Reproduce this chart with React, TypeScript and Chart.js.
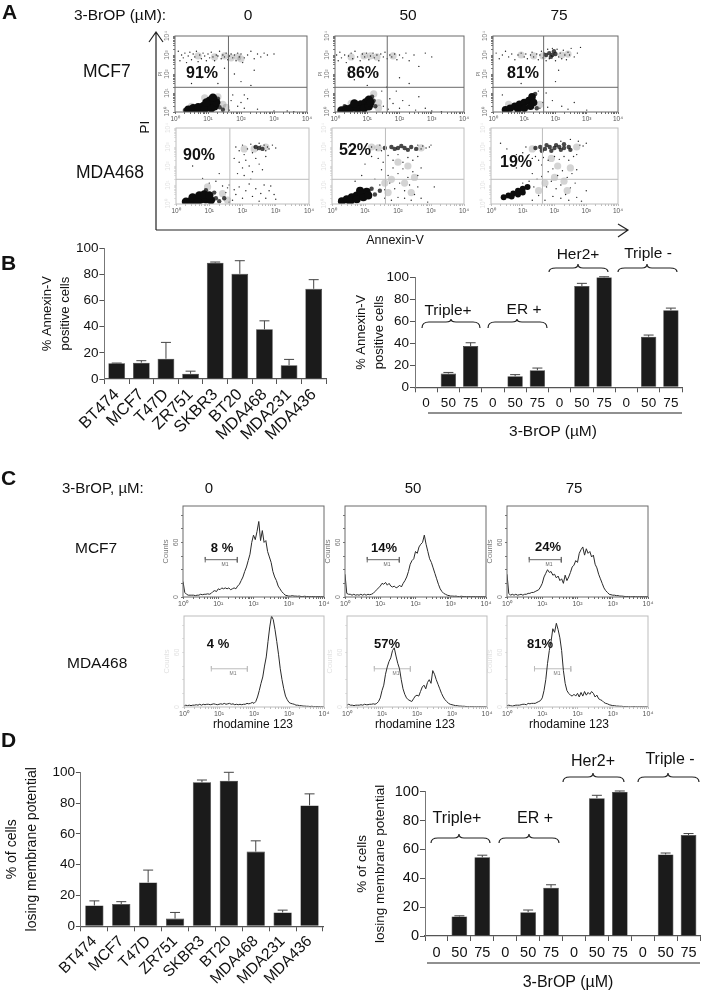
import React, { useEffect, useRef } from "react";
import { Chart, registerables } from "chart.js";

Chart.register(...registerables);

const FONT = "'Liberation Sans', Arial, sans-serif";
const W = 703;
const H = 992;

/* ---------- bar data ---------- */
const cellLines = ["BT474", "MCF7", "T47D", "ZR751", "SKBR3", "BT20", "MDA468", "MDA231", "MDA436"];
const doseLabels = ["0", "50", "75", "0", "50", "75", "0", "50", "75", "0", "50", "75"];

const annexinByLine = [12, 12.5, 15.5, 4, 89, 80.5, 38, 10.5, 69];
const annexinByLineTop = [12.2, 14, 28, 6, 89.5, 90.5, 44.5, 15, 76];
const annexinByDose = [0, 12.5, 37.5, 0, 10, 15.5, 0, 92, 100, 0, 46, 70];
const annexinByDoseTop = [0, 13.5, 40.5, 0, 11.5, 17.5, 0, 94.5, 100.5, 0, 47.5, 72];
const potentialByLine = [13.5, 14.5, 28.5, 5, 93.5, 94.5, 48.5, 9, 78.5];
const potentialByLineTop = [16.5, 16, 36.5, 9, 95, 100, 55.5, 10.5, 86];
const potentialByDose = [0, 13.5, 54.5, 0, 16.5, 33.5, 0, 95.5, 100, 0, 56.5, 70];
const potentialByDoseTop = [0, 14, 56, 0, 18, 35.5, 0, 97.5, 100.5, 0, 57.5, 71];

/* ---------- flow cytometry dots, log10 decades as x,y pairs ---------- */
const mcf7_0_core = [.4,.12,.55,.2,.7,.25,.85,.3,1,.35,1.1,.4,.7,.12,.9,.15,1.1,.2,1.2,.3,1.25,.5,1.05,.6,.95,.5,1.15,.75];
const mcf7_0_mid = [1.35,.25,1.3,.7,.3,.1,1.45,.12];
const mcf7_0_halo = [.5,.3,.9,.75,1.3,.8,1.45,.4,1.55,.25,1.7,2.85,1.9,2.9,1.5,2.95,1.2,2.9,.7,2.95,2,2.8];
const mcf7_0_dots = [.1,3.2,.15,2.7,.2,3,.25,2.85,.3,3.1,.35,2.6,.4,2.95,.45,3.15,.5,2.75,.55,3.05,.6,2.9,.65,3.2,.7,2.65,.75,3,.8,2.8,.85,3.1,.9,2.95,.95,2.7,1,3.05,1.05,2.85,1.1,3.15,1.15,2.9,1.2,2.7,1.25,3,1.3,2.95,1.35,3.2,1.4,2.8,1.45,3,1.5,2.9,1.55,3.1,1.6,2.75,1.65,2.95,1.7,3.05,1.75,2.85,1.8,3,1.85,2.7,1.9,3.1,1.95,2.9,2,3.05,2.05,2.6,2.1,2.85,2.2,3,2.3,3.2,2.4,2.8,2.5,3.05,2.6,2.9,2.7,3.1,2.8,3,3,3.05,1.8,2,2,1.6,2.1,.9,2.3,1.4,1.7,.6,1.75,.9,1.9,.3,2,.5,2.1,.2,2.2,.7,2.5,.15,2.4,2.2,.8,1.8,1,2.2,1.3,1.5,.5,1.5,1.5,2.3,1.65,.1,3.4,.05,3,.05,3.6,.02];

const mcf7_50_core = [.2,.08,.35,.15,.5,.2,.65,.3,.8,.4,.95,.5,1.05,.65,.7,.15,.9,.2,1.05,.3,1.1,.5,.6,.45];
const mcf7_50_mid = [1.15,.8,1.25,.3,1.2,.6,.3,.3];
const mcf7_50_halo = [1.1,2.95,1.3,2.9,.9,2.95,.5,2.9,1.8,2.95,1.35,.2,1.35,.5,.5,.45,1.2,.95];
const mcf7_50_dots = [.05,3,.1,2.7,.15,3.15,.2,2.85,.3,3,.35,2.6,.42,2.95,.5,3.1,.55,2.8,.62,3.2,.7,2.9,.78,2.7,.85,3.05,.92,2.9,.98,3.1,1.05,2.75,1.1,2.95,1.18,3.1,1.22,2.85,1.3,3,1.36,2.7,1.42,3.05,1.5,2.9,1.55,3.15,1.62,2.8,1.7,3,1.76,2.9,1.85,3.05,1.92,2.75,2,3,2.1,2.85,2.2,3.1,2.3,2.7,2.45,3,2.6,2.4,2.8,3.1,3,2.9,1.5,.3,1.65,.15,1.7,.7,1.8,.45,1.9,1.1,2,.2,2.1,.6,2.3,.35,2.5,.1,2.8,.2,3,.05,1.6,1.3,2,1.8,2.3,1.5,.6,1.7,1,1.4,1.3,2,.4,2.1,1.45,1.1,2.6,.8,3.3,.02];

const mcf7_75_core = [.4,.12,.55,.2,.7,.3,.85,.4,1,.5,1.15,.6,1.25,.8,.8,.15,1,.2,1.2,.3,1.3,.5];
const mcf7_75_mid = [1.7,3,1.8,3.1,1.9,3,2,3.05,1.85,2.9,1.95,3.2,1.35,.95,1.4,.2];
const mcf7_75_halo = [1.6,2.95,1.3,2.95,.9,3,2.2,3,2.4,3.05,1.5,.4,.5,.4];
const mcf7_75_dots = [.1,3.1,.2,2.8,.3,3,.4,3.2,.5,2.9,.6,3.05,.7,2.75,.8,3,.9,3.1,1,2.9,1.05,3.05,1.1,2.8,1.2,3,1.25,3.15,1.3,2.9,1.4,3.05,1.45,2.75,1.5,3,1.55,3.2,1.6,2.85,1.65,3.1,1.7,2.7,1.75,3.3,1.8,2.8,1.9,3.35,2,2.7,2.05,3.3,2.1,2.9,2.15,3.1,2.2,2.8,2.25,3.25,2.3,3,2.35,2.75,2.4,3.15,2.45,3,2.5,3.35,2.6,2.9,2.7,3.1,2.8,3.4,1.5,.2,1.6,.5,1.7,1,1.75,.25,1.9,.6,2,1.6,2.1,2.2,2.2,.3,2.4,.15,2.6,.5,3,.1,1.45,1.1,.9,1.5,1.2,1.9,.3,.9];

const mda_0_core = [.3,.12,.45,.15,.6,.2,.75,.25,.9,.25,1.05,.2,.5,.35,.7,.45,.85,.5,1,.45,.65,.1];
const mda_0_mid = [1.2,.3,1.3,.15,1.15,.6,.9,.72,1.45,.3,2.5,2.95,2.6,2.9,2.4,3];
const mda_0_halo = [1.4,.55,1.55,.2,.95,.9,2.35,2.9,2.7,3,2.05,2.9];
const mda_0_dots = [1.8,3,1.9,2.8,2,3.1,2.05,2.6,2.15,2.9,2.25,3.15,2.3,2.7,2.35,3,2.45,2.85,2.5,3.2,2.55,3.05,2.65,3.1,2.7,2.8,2.75,3,2.8,2.9,2.9,3.1,3,2.95,1.75,2.4,1.9,2.2,2,1.9,2.1,2.3,2.2,2,2.3,1.7,2.4,2.4,2.5,2.1,2.6,1.8,2.7,2.5,2.05,1.5,2.25,1.3,1.85,1.6,1.7,.2,1.8,.5,1.9,.9,2,.3,2.1,.7,2.2,1.05,2.3,.4,2.4,.8,2.5,.15,2.55,.55,2.65,1,2.7,.3,2.8,.7,2.85,.95,2.95,.5,3,.25,1.5,.6,1.6,1,1.4,.95,1.2,1.2,1,1.1,.8,1.35,1.3,1.6,.5,2,.9,2.4,1.6,.1,1.55,.85,1.75,.75];

const mda_50_core = [.3,.15,.45,.25,.6,.35,.75,.45,.9,.55,1.05,.65,.55,.15,.75,.25,.95,.35,1.1,.45,.85,.7];
const mda_50_mid = [1.3,.5,1.2,.8,1.45,.7,1.6,2.95,1.8,3,2,2.95,2.2,2.95,2.4,3,2.55,2.9,1.9,2.9,2.1,3.05,2.3,2.85];
const mda_50_halo = [1.8,1.3,2.2,1.1,2.4,.6,2.5,1.4,2,2.2,1.6,1.1,2.3,2,1.4,2.95,2.7,2.95,1.7,.6,1.2,3];
const mda_50_dots = [.5,3,.8,3.05,1,2.9,1.2,3,1.35,2.85,1.45,3.1,1.5,2.8,2.6,3.1,2.7,2.9,2.75,3.05,2.85,2.95,2.95,3,3,3.1,1.2,2.5,1.4,2.4,1.55,2.2,1.7,2.55,1.85,2.3,2,2.6,2.15,2.2,2.3,2.45,2.45,2.3,2.6,2.5,1.5,1.8,1.7,1.5,1.85,1.9,2,1.6,2.15,1.85,2.3,1.4,2.45,1.7,2.6,1.5,2.7,1.9,1.3,1.3,1.45,1,1.6,.75,1.75,1.1,1.9,.8,2.05,1.1,2.2,.7,2.35,1,2.5,.5,2.6,.9,2.7,.3,2.4,.2,2.2,.3,2,.35,1.8,.2,1.6,.3,.9,1.5,1,2.1,.7,1.2,3.1,.9,2.9,.1];

const mda_75_core = [.4,.35,.55,.45,.7,.55,.85,.7,1,.8,1.15,.9,.65,.4,.85,.5,1,.6];
const mda_75_mid = [1.4,2.95,1.55,3,1.7,2.9,1.85,3,2,2.95,2.15,3,2.3,2.95,2.45,3,1.6,2.8,1.9,2.8,2.2,2.85,1.75,3.1,2.05,3.1,2.3,3.15,2.5,2.85];
const mda_75_halo = [2,1.4,2.3,1.2,1.7,1.1,2.1,2,1.5,.7,2.4,.7,1.3,2.9,2.7,3,1.9,2.4,2.5,1.9];
const mda_75_dots = [.3,3.2,.5,2.9,.8,2.6,1,2.7,1.1,3,1.2,2.6,1.3,2.4,1.4,2.5,1.5,2.3,1.65,2.45,1.8,2.3,2,2.5,2.15,2.35,2.3,2.5,2.45,2.3,2.6,2.5,2.7,2.6,2.8,3.1,2.9,3.05,3,3.2,2.75,3.3,2.5,3.4,2.2,3.3,1.6,2.05,1.8,1.7,1.95,1.85,2.1,1.5,2.25,1.75,2.4,1.4,2.55,1.6,2.7,1.8,1.3,1.6,1.45,1.3,1.6,1.45,1.75,.9,1.9,1.2,2.05,.8,2.2,1,2.35,.5,2.5,.85,2.65,1.1,2.7,.35,2.45,.2,2.2,.3,1.95,.4,1.7,.2,1.5,.45,1.3,.2,1.35,.9,1.2,1.2,1,1.1,.8,1.9,3,.7,2.85,.15];

const annexinGate = [1.62, 1.3];

/* ---------- rhodamine histograms, counts per 0.05 decade ---------- */
const channel = [0,.05,.1,.15,.2,.25,.3,.35,.4,.45,.5,.55,.6,.65,.7,.75,.8,.85,.9,.95,1,1.05,1.1,1.15,1.2,1.25,1.3,1.35,1.4,1.45,1.5,1.55,1.6,1.65,1.7,1.75,1.8,1.85,1.9,1.95,2,2.05,2.1,2.15,2.2,2.25,2.3,2.35,2.4,2.45,2.5,2.55,2.6,2.65,2.7,2.75,2.8,2.85,2.9,2.95,3,3.05,3.1,3.15,3.2,3.25,3.3,3.35,3.4,3.45,3.5,3.55,3.6,3.65,3.7,3.75,3.8,3.85,3.9,3.95,4];
const histMcf7_0 = [17,5,3,2,2,2,2,1.5,2,2,3,2.5,3,3,3.5,3,4,6,7,6,9,8,10,9,10,9,10,8,9,10,9,12,14,18,22,28,33,40,47,60,68,63,72,83,62,73,60,62,50,44,38,28,22,18,12,9,6,4,2,1.5,1,1,1.5,1,1,.8,1,.5,.5,.8,.5,.5,.3,.5,.5,.3,.3,.5,.3,.3,.3];
const histMcf7_50 = [25,4,3,3,2,3,2,2.5,2,3,2,3,2,3,2.5,3,4,6,8,10,12,15,14,16,13,15,12,11,12,10,11,13,11,15,18,22,28,36,40,42,50,48,55,58,60,68,58,50,42,38,32,26,20,14,9,6,4,3,2,1.5,1,1,.8,1,.5,.5,.8,.5,.5,.3,.5,.3,.3,.5,.3,.3,.3,.3,.3,.3,.3];
const histMcf7_75 = [25,4,2,3,2,3,2,2.5,3,2,3,3,4,4,5,5,6,7,8,11,15,22,26,30,27,28,24,25,21,23,18,20,15,24,18,22,27,33,35,40,38,48,52,55,46,53,48,50,44,46,36,32,25,20,15,10,7,5,3,2.5,2,2,1.5,1.5,1,1,.8,.5,.5,.5,.3,.3,.5,.3,.3,.3,.3,.3,.3,.3,.3];
const histMda_0 = [1,2,1.5,2,1.5,2,2,2.5,2,3,2,3,2.5,3,3,2.5,3,3.5,3,2.5,3,3.5,3,4,3,3.5,4,3,3.5,2.5,3,2.5,3,2.5,3,3,4,3.5,4,5,4,6,11,18,26,33,45,55,72,88,100,96,85,72,58,42,30,20,12,8,5,4,3.5,3,2,2,1.5,1.5,1,1,.8,.8,.5,.8,.5,.5,.5,.5,.3,.3,.3];
const histMda_50 = [2,3,2,2,1.5,2,2,2,2.5,2,3,2.5,2.5,3,3,3.5,3,4,6,10,18,24,36,44,50,54,62,65,56,48,42,30,20,14,10,8,7,6,9,12,13,12,17,22,24,20,27,30,26,40,36,30,25,20,15,11,8,6,4,3,2.5,2,1.5,1.5,1,1,.8,.8,.5,.5,.3,.5,.3,.3,.3,.3,.3,.3,.3,.3,.3];
const histMda_75 = [1.5,2,1.5,1,1.5,2,2,2,2.5,3,3,2.5,4,3.5,4,4,4,5,6,7,10,18,30,48,62,72,86,82,92,85,76,62,40,26,18,15,13,12,14,12,15,11,16,12,17,13,16,14,17,15,11,13,9,8,7,5,4,3.5,2.5,2,1.5,1.5,1,1,.8,.8,.5,.5,.5,.3,.3,.3,.5,.3,.3,.3,.3,.3,.3,.3,.3];

const m1Mcf7 = [.63, 1.54, 41];
const m1Mda = [.78, 1.81, 42];

const decadeLabels = ["10⁰", "10¹", "10²", "10³", "10⁴"];
const minorDecades = [.3, .48, .6, .7, .78, .85, .9, .95];

/* ---------- text ---------- */
type T = { t: string; x: number; y: number; s: number; b?: boolean; c?: boolean; r?: boolean; col?: string };
const texts: T[] = [
  { t: "A", x: 2, y: 11, s: 21, b: true },
  { t: "B", x: 1, y: 262, s: 21, b: true },
  { t: "C", x: 1, y: 477, s: 21, b: true },
  { t: "D", x: 1, y: 739, s: 21, b: true },
  { t: "3-BrOP (µM):", x: 74, y: 15, s: 15.5 },
  { t: "0", x: 248, y: 15, s: 15.5, c: true },
  { t: "50", x: 408, y: 15, s: 15.5, c: true },
  { t: "75", x: 559, y: 15, s: 15.5, c: true },
  { t: "MCF7", x: 83, y: 72, s: 17.5 },
  { t: "MDA468", x: 76, y: 173, s: 17.5 },
  { t: "PI", x: 145, y: 127, s: 13.5, c: true, r: true },
  { t: "Annexin-V", x: 395, y: 240, s: 12.5, c: true },
  { t: "91%", x: 186, y: 73, s: 16, b: true },
  { t: "86%", x: 347, y: 73, s: 16, b: true },
  { t: "81%", x: 507, y: 73, s: 16, b: true },
  { t: "90%", x: 183, y: 155, s: 16, b: true },
  { t: "52%", x: 339, y: 150, s: 16, b: true },
  { t: "19%", x: 500, y: 162, s: 16, b: true },
  { t: "Triple+", x: 448, y: 310, s: 15.5, c: true },
  { t: "ER +", x: 524, y: 309, s: 15.5, c: true },
  { t: "Her2+", x: 578, y: 254, s: 15.5, c: true },
  { t: "Triple -", x: 648, y: 253, s: 15.5, c: true },
  { t: "3-BrOP (µM)", x: 553, y: 431, s: 15.5, c: true },
  { t: "3-BrOP, µM:", x: 62, y: 487, s: 15 },
  { t: "0", x: 209, y: 487, s: 15, c: true },
  { t: "50", x: 413, y: 487, s: 15, c: true },
  { t: "75", x: 574, y: 487, s: 15, c: true },
  { t: "MCF7", x: 75, y: 548, s: 15.5 },
  { t: "MDA468", x: 67, y: 663, s: 15.5 },
  { t: "8 %", x: 222, y: 547, s: 13, b: true, c: true },
  { t: "14%", x: 384, y: 547, s: 13, b: true, c: true },
  { t: "24%", x: 548, y: 546, s: 13, b: true, c: true },
  { t: "4 %", x: 218, y: 643, s: 13, b: true, c: true },
  { t: "57%", x: 387, y: 643, s: 13, b: true, c: true },
  { t: "81%", x: 540, y: 643, s: 13, b: true, c: true },
  { t: "M1", x: 225, y: 564, s: 5, c: true, col: "#666" },
  { t: "M1", x: 387, y: 564, s: 5, c: true, col: "#666" },
  { t: "M1", x: 549, y: 564, s: 5, c: true, col: "#666" },
  { t: "M1", x: 233, y: 673, s: 5, c: true, col: "#777" },
  { t: "M1", x: 396, y: 673, s: 5, c: true, col: "#777" },
  { t: "M1", x: 557, y: 673, s: 5, c: true, col: "#777" },
  { t: "rhodamine 123", x: 253, y: 724, s: 12, c: true },
  { t: "rhodamine 123", x: 415, y: 724, s: 12, c: true },
  { t: "rhodamine 123", x: 569, y: 724, s: 12, c: true },
  { t: "Triple+", x: 457, y: 818, s: 16, c: true },
  { t: "ER +", x: 535, y: 818, s: 16, c: true },
  { t: "Her2+", x: 593, y: 761, s: 16, c: true },
  { t: "Triple -", x: 670, y: 759, s: 16, c: true },
  { t: "3-BrOP (µM)", x: 568, y: 982, s: 16, c: true },
];

const braces = [
  [422, 451, 480, 322, 319, 328],
  [488, 517, 547, 322, 319, 328],
  [549, 578, 608, 268, 264, 272],
  [618, 647, 677, 268, 264, 272],
  [431, 459, 490, 838, 834, 843],
  [499, 529, 559, 838, 834, 843],
  [563, 593, 624, 777, 773, 782],
  [638, 668, 699, 777, 773, 782],
];

/* ---------- chart helpers ---------- */
const pairs = (a: number[]) => {
  const out: { x: number; y: number }[] = [];
  for (let i = 0; i + 1 < a.length; i += 2) out.push({ x: a[i], y: a[i + 1] });
  return out;
};

const fixed = (size: number, key: "width" | "height") => (s: any) => {
  s[key] = size;
  s.paddingLeft = s.paddingRight = s.paddingTop = s.paddingBottom = 0;
};

const framePlugin = {
  id: "frame",
  afterDatasetsDraw(chart: any, _a: any, o: any) {
    if (!o || !o.color) return;
    const { left, right, top, bottom } = chart.chartArea;
    const c = chart.ctx;
    c.save();
    c.strokeStyle = o.color;
    c.lineWidth = 1;
    c.strokeRect(left, top, right - left, bottom - top);
    c.restore();
  },
};

const errorPlugin = {
  id: "errs",
  afterDatasetsDraw(chart: any, _a: any, o: any) {
    if (!o || !o.tops) return;
    const c = chart.ctx;
    const { x, y } = chart.scales;
    c.save();
    c.strokeStyle = "#444";
    c.lineWidth = 1;
    o.tops.forEach((top: number, i: number) => {
      const val = chart.data.datasets[0].data[i];
      if (!val) return;
      const px = x.getPixelForValue(i);
      const a = y.getPixelForValue(val);
      const b = y.getPixelForValue(top);
      c.beginPath();
      c.moveTo(px, a);
      c.lineTo(px, b);
      c.moveTo(px - o.cap, b);
      c.lineTo(px + o.cap, b);
      c.stroke();
    });
    c.restore();
  },
};

type Box = { l: number; t: number; r: number; b: number; yW: number; xH: number };
const pad = (k: Box) => ({ left: k.l - k.yW, right: W - k.r, top: k.t, bottom: H - k.b - k.xH });

function barConfig(k: Box, labels: string[], vals: number[], tops: number[], o: any) {
  return {
    type: "bar",
    data: { labels, datasets: [{ data: vals, backgroundColor: "#1b1b1b", borderColor: "#3a3a3a", borderWidth: 0.6, barPercentage: o.bar, categoryPercentage: 1 }] },
    options: {
      responsive: false,
      animation: false,
      layout: { padding: pad(k) },
      plugins: { legend: { display: false }, tooltip: { enabled: false }, errs: { tops, cap: o.cap } },
      scales: {
        x: {
          afterFit: fixed(k.xH, "height"),
          grid: { display: true, drawOnChartArea: false, tickLength: 5, tickColor: "#555" },
          border: { color: "#555", width: 1.2 },
          ticks: { autoSkip: false, minRotation: o.rot, maxRotation: o.rot, padding: o.rot ? 1 : 3, color: "#111", font: { family: FONT, size: o.xFont } },
        },
        y: {
          min: 0,
          max: 100,
          afterFit: fixed(k.yW, "width"),
          grid: { display: true, drawOnChartArea: false, tickLength: 5, tickColor: "#555" },
          border: { color: "#777", width: 1 },
          title: { display: true, text: o.title, color: "#111", padding: 0, font: { family: FONT, size: o.titleFont, lineHeight: o.lineH } },
          ticks: {
            stepSize: o.step,
            padding: 1,
            color: "#111",
            font: { family: FONT, size: o.yFont },
            callback: (v: number) => (v % 20 === 0 ? String(v) : ""),
          },
        },
      },
    },
    plugins: [errorPlugin],
  };
}

function decadeAxis(size: number, key: "width" | "height", color: string, tickColor: string, fontSize: number, rotate: boolean, title?: string) {
  return {
    type: "linear",
    min: 0,
    max: 4,
    afterFit: fixed(size, key),
    afterBuildTicks: (s: any) => {
      const t: { value: number }[] = [];
      for (let d = 0; d < 4; d++) {
        t.push({ value: d });
        minorDecades.forEach((m) => t.push({ value: d + m }));
      }
      t.push({ value: 4 });
      s.ticks = t;
    },
    grid: { display: true, drawOnChartArea: false, tickLength: 2, tickColor },
    border: { display: false },
    title: title ? { display: true, text: title, color, padding: 0, font: { family: FONT, size: 5.5 } } : { display: false },
    ticks: {
      autoSkip: false,
      padding: 1,
      minRotation: rotate ? 90 : 0,
      maxRotation: rotate ? 90 : 0,
      crossAlign: rotate ? "center" : "near",
      color,
      font: { family: FONT, size: fontSize },
      callback: (v: number) => (Number.isInteger(v) ? decadeLabels[v] : ""),
    },
  };
}

function flowConfig(k: Box, core: number[], mid: number[], halo: number[], dots: number[], o: any) {
  const [gx, gy] = annexinGate;
  const dotSet = (d: number[], r: number, color: string) => ({
    type: "scatter", data: pairs(d), pointRadius: r, pointBorderWidth: 0, pointBackgroundColor: color, showLine: false,
  });
  const line = (d: number[]) => ({
    type: "scatter", data: pairs(d), showLine: true, pointRadius: 0, borderWidth: 1, borderColor: o.frame,
  });
  return {
    type: "scatter",
    data: {
      datasets: [
        line([gx, 0, gx, 4]),
        line([0, gy, 4, gy]),
        dotSet(core, o.coreR, "#0c0c0c"),
        dotSet(mid, 2.2, "rgba(20,20,20,0.78)"),
        dotSet(dots, 0.7, "#222"),
        dotSet(halo, 3.6, "rgba(40,40,40,0.2)"),
      ],
    },
    options: {
      responsive: false,
      animation: false,
      layout: { padding: pad(k) },
      plugins: { legend: { display: false }, tooltip: { enabled: false }, frame: { color: o.frame } },
      scales: {
        x: decadeAxis(k.xH, "height", "#555", o.frame, 6.5, false),
        y: decadeAxis(k.yW, "width", o.yCol, o.yCol, 6.5, true, o.yTitle),
      },
    },
    plugins: [framePlugin],
  };
}

function histConfig(k: Box, hist: number[], m1: number[], o: any) {
  const [a, b, h] = m1;
  const bar = [a, h - 3, a, h + 3, a, h, b, h, b, h + 3, b, h - 3];
  return {
    type: "scatter",
    data: {
      datasets: [
        { data: channel.map((x, i) => ({ x, y: hist[i] })), showLine: true, pointRadius: 0, borderWidth: 1, borderColor: "#2a2a2a", tension: 0 },
        { data: pairs(bar), showLine: true, pointRadius: 0, borderWidth: 1, borderColor: o.mark },
      ],
    },
    options: {
      responsive: false,
      animation: false,
      layout: { padding: pad(k) },
      plugins: { legend: { display: false }, tooltip: { enabled: false }, frame: { color: o.frame } },
      scales: {
        x: decadeAxis(k.xH, "height", "#555", o.frame, 7, false),
        y: {
          min: 0,
          max: 100,
          afterFit: fixed(k.yW, "width"),
          grid: { display: true, drawOnChartArea: false, tickLength: 2, tickColor: o.yCol },
          border: { display: false },
          title: o.yTitle ? { display: true, text: o.yTitle, color: o.yCol, padding: 0, font: { family: FONT, size: 7.5 } } : { display: false },
          ticks: {
            stepSize: 5,
            padding: 1,
            minRotation: 90,
            maxRotation: 90,
            crossAlign: "center",
            color: o.yCol,
            font: { family: FONT, size: 7 },
            callback: (v: number) => (v % 20 === 0 ? String(v) : ""),
          },
        },
      },
    },
    plugins: [framePlugin],
  };
}

const dark = "#6a6a6a";
const pale = "#bdbdbd";
const faint = "#e2e2e2";

const configs: any[] = [
  barConfig({ l: 104.4, t: 248.3, r: 326, b: 379, yW: 66, xH: 70 }, cellLines, annexinByLine, annexinByLineTop,
    { bar: 0.68, cap: 5, rot: 45, xFont: 16.5, yFont: 13.5, title: ["% Annexin-V", "positive cells"], titleFont: 13, lineH: 1.4, step: 20 }),
  barConfig({ l: 415, t: 277.3, r: 682, b: 387.3, yW: 63, xH: 30 }, doseLabels, annexinByDose, annexinByDoseTop,
    { bar: 0.69, cap: 5, rot: 0, xFont: 13.5, yFont: 13.5, title: ["% Annexin-V", "positive cells"], titleFont: 13, lineH: 1.4, step: 10 }),
  barConfig({ l: 80.9, t: 772.3, r: 323, b: 926.3, yW: 79, xH: 62 }, cellLines, potentialByLine, potentialByLineTop,
    { bar: 0.68, cap: 5, rot: 45, xFont: 15.5, yFont: 13.5, title: ["% of cells", "losing membrane potential"], titleFont: 14, lineH: 1.43, step: 20 }),
  barConfig({ l: 425, t: 791.7, r: 700, b: 936, yW: 72, xH: 30 }, doseLabels, potentialByDose, potentialByDoseTop,
    { bar: 0.685, cap: 5, rot: 0, xFont: 14.5, yFont: 14.5, title: ["% of cells", "losing membrane potential"], titleFont: 13.5, lineH: 1.35, step: 10 }),

  flowConfig({ l: 175, t: 36, r: 307, b: 112, yW: 18, xH: 12 }, mcf7_0_core, mcf7_0_mid, mcf7_0_halo, mcf7_0_dots, { frame: dark, yCol: "#777", coreR: 4.2, yTitle: "PI" }),
  flowConfig({ l: 335, t: 36, r: 464, b: 112, yW: 18, xH: 12 }, mcf7_50_core, mcf7_50_mid, mcf7_50_halo, mcf7_50_dots, { frame: dark, yCol: "#777", coreR: 4.2, yTitle: "PI" }),
  flowConfig({ l: 493, t: 36, r: 618, b: 112, yW: 18, xH: 12 }, mcf7_75_core, mcf7_75_mid, mcf7_75_halo, mcf7_75_dots, { frame: dark, yCol: "#777", coreR: 3.8, yTitle: "PI" }),
  flowConfig({ l: 176, t: 128, r: 309, b: 204, yW: 18, xH: 12 }, mda_0_core, mda_0_mid, mda_0_halo, mda_0_dots, { frame: pale, yCol: faint, coreR: 4.2 }),
  flowConfig({ l: 332, t: 128, r: 464, b: 204, yW: 18, xH: 12 }, mda_50_core, mda_50_mid, mda_50_halo, mda_50_dots, { frame: pale, yCol: faint, coreR: 4 }),
  flowConfig({ l: 491, t: 128, r: 618, b: 204, yW: 18, xH: 12 }, mda_75_core, mda_75_mid, mda_75_halo, mda_75_dots, { frame: pale, yCol: faint, coreR: 3 }),

  histConfig({ l: 183, t: 506, r: 324, b: 597, yW: 22, xH: 12 }, histMcf7_0, m1Mcf7, { frame: dark, mark: "#666", yCol: "#777", yTitle: "Counts" }),
  histConfig({ l: 345, t: 506, r: 486, b: 597, yW: 22, xH: 12 }, histMcf7_50, m1Mcf7, { frame: dark, mark: "#666", yCol: "#777", yTitle: "Counts" }),
  histConfig({ l: 507, t: 506, r: 648, b: 597, yW: 22, xH: 12 }, histMcf7_75, m1Mcf7, { frame: dark, mark: "#666", yCol: "#777", yTitle: "Counts" }),
  histConfig({ l: 184, t: 616, r: 324, b: 707, yW: 22, xH: 12 }, histMda_0, m1Mda, { frame: pale, mark: pale, yCol: faint, yTitle: "Counts" }),
  histConfig({ l: 347, t: 616, r: 487, b: 707, yW: 22, xH: 12 }, histMda_50, m1Mda, { frame: pale, mark: pale, yCol: faint, yTitle: "Counts" }),
  histConfig({ l: 507, t: 616, r: 648, b: 707, yW: 22, xH: 12 }, histMda_75, m1Mda, { frame: pale, mark: pale, yCol: faint, yTitle: "Counts" }),
];

export default function App() {
  const host = useRef<HTMLDivElement>(null);

  useEffect(() => {
    const charts: Chart[] = [];
    const nodes: HTMLCanvasElement[] = [];
    configs.forEach((cfg) => {
      const cv = document.createElement("canvas");
      cv.width = W;
      cv.height = H;
      cv.style.cssText = "position:absolute;left:0;top:0;width:703px;height:992px;";
      host.current!.prepend(cv);
      nodes.push(cv);
      charts.push(new Chart(cv, cfg));
    });
    return () => {
      charts.forEach((c) => c.destroy());
      nodes.forEach((n) => n.remove());
    };
  }, []);

  const brace = ([a, m, z, top, tip, end]: number[]) =>
    `M${a},${end} Q${a},${top} ${a + 7},${top} L${m - 5},${top} Q${m},${top} ${m},${tip} Q${m},${top} ${m + 5},${top} L${z - 7},${top} Q${z},${top} ${z},${end}`;

  return (
    <div ref={host} style={{ position: "absolute", left: 0, top: 0, width: W, height: H, overflow: "hidden", background: "#fff", fontFamily: FONT }}>
      <svg width={W} height={H} style={{ position: "absolute", left: 0, top: 0 }}>
        <g fill="none" stroke="#222" strokeWidth={1.2}>
          <path d="M156,230 L156,32 M149,42 L156,32 L163,42" />
          <path d="M156,230 L628,230 M618,224 L628,230 L618,237" />
          {braces.map((b, i) => (
            <path key={i} d={brace(b)} />
          ))}
          <path d="M428,413 L682,413" />
          <path d="M427,963 L700,963" />
        </g>
      </svg>
      {texts.map((x, i) => (
        <div
          key={i}
          style={{
            position: "absolute",
            left: x.x,
            top: x.y,
            fontSize: x.s,
            fontWeight: x.b ? 700 : 400,
            lineHeight: 1,
            whiteSpace: "nowrap",
            color: x.col || "#111",
            transform: `translate(${x.c ? "-50%" : "0"},-50%)${x.r ? " rotate(-90deg)" : ""}`,
          }}
        >
          {x.t}
        </div>
      ))}
    </div>
  );
}
